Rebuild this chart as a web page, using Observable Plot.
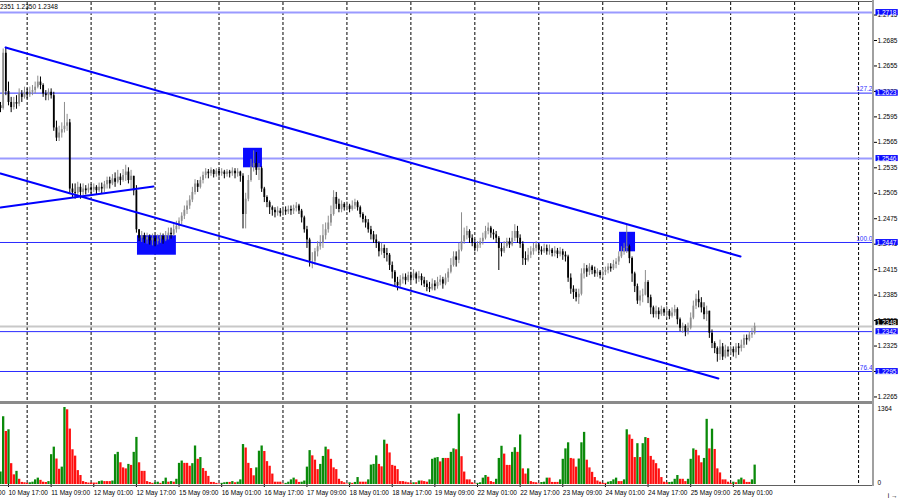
<!DOCTYPE html>
<html><head><meta charset="utf-8">
<script src="https://cdn.jsdelivr.net/npm/d3@7"></script>
<script src="https://cdn.jsdelivr.net/npm/@observablehq/plot@0.6"></script>
<style>
body{margin:0;background:#fff;}
#wrap{position:relative;width:900px;height:500px;overflow:hidden;font-family:"Liberation Sans",Arial,sans-serif;}
#price,#vol{position:absolute;left:0;}
#price{top:0;}
#vol{top:402px;}
.hline{position:absolute;left:0;width:873px;}
#head{position:absolute;top:3px;left:-5.5px;font-size:6.5px;color:#000;white-space:nowrap;}
</style></head><body>
<div id="wrap">
  <div id="price"></div>
  <div id="vol"></div>
  <div class="hline" style="top:1px;height:1px;background:#606060"></div>
  <div class="hline" style="top:401px;height:3px;background:#8a8a8a"></div>
  <div class="hline" style="top:485px;height:1px;background:#606060"></div>
  <div style="position:absolute;left:872px;top:0;width:2px;height:486px;background:#a0a0a0"></div>
  <div id="head">1.2351 1.2350 1.2348</div>
</div>
<script>
// ---- data (prices in pips above 1.2000, H1 bars, first bar index = -3) ----
const BASE = 1.2;
const firstBar = -3;
const firstOpen = 608;
const closes = [
605,670,625,612,606,612,610,622,618,624,
621,624,626,630,636,632,622,620,624,620,
582,570,576,580,584,588,510,506,505,512,
506,510,508,511,509,512,508,512,510,515,
520,516,522,518,524,520,526,530,520,525,
508,462,452,455,450,453,449,452,448,451,
454,450,455,458,456,462,466,472,478,485,
490,497,506,516,512,520,526,530,528,532,
527,531,528,530,527,530,528,531,528,530,
525,480,498,520,536,540,532,534,510,500,
494,488,485,482,484,481,485,483,486,484,
487,490,484,476,462,450,425,425,436,442,
446,455,462,470,480,500,492,486,492,488,
490,486,490,494,488,480,474,470,462,456,
450,446,436,440,434,432,420,412,400,396,
403,406,402,408,405,410,404,407,402,398,
394,392,398,395,400,403,398,405,412,420,
430,426,438,448,455,460,452,446,440,444,
448,452,460,464,458,456,452,440,436,442,
448,444,452,460,452,445,428,426,432,436,
440,444,438,436,440,436,438,434,437,433,
436,432,430,405,392,388,382,386,410,416,
412,418,414,410,412,408,412,414,418,416,
421,424,430,436,440,442,428,410,395,378,
384,385,400,382,370,362,366,362,368,364,
366,360,364,368,356,346,348,342,346,358,
372,380,376,370,362,366,340,328,322,315,
324,312,320,318,321,317,324,322,326,334,
332,338,340,348];
const highs = [
612,675,677,636,618,618,620,628,626,630,
628,630,632,636,643,642,634,626,628,628,
624,590,584,588,612,598,592,516,516,518,
516,516,514,516,515,516,514,517,517,519,
524,524,527,529,532,528,533,538,535,532,
524,514,462,460,458,458,456,457,455,456,
458,457,460,464,464,468,472,476,482,490,
496,502,512,521,520,524,530,534,533,535,
533,534,533,534,532,533,532,535,534,534,
531,528,505,526,545,555,553,540,536,512,
502,496,490,488,489,487,489,489,490,490,
491,494,492,486,478,466,452,435,440,448,
455,468,470,478,490,508,506,498,496,494,
495,492,496,498,496,490,482,478,474,466,
460,456,448,446,444,440,434,424,414,406,
408,410,410,412,412,415,412,413,410,406,
402,400,404,402,406,408,406,410,416,428,
436,436,446,482,464,466,462,456,450,448,
452,458,466,470,466,462,460,454,446,448,
452,452,460,468,466,456,448,436,440,442,
446,448,446,442,445,444,444,440,442,440,
441,439,436,432,410,396,392,392,416,422,
420,422,420,418,416,414,416,418,422,422,
426,428,436,442,446,468,444,430,412,398,
390,392,414,402,385,372,372,370,372,370,
372,368,370,373,370,358,352,350,352,364,
378,386,390,382,376,372,366,344,330,324,
332,328,326,324,325,324,328,328,332,338,
338,342,346,352];
const lows = [
600,603,620,608,600,603,604,607,612,616,
616,618,620,622,628,627,618,614,614,616,
578,566,566,570,576,578,505,500,498,500,
498,502,503,505,504,506,503,506,504,506,
510,510,514,512,516,514,518,519,516,510,
502,458,448,447,446,445,444,443,442,444,
446,445,448,450,451,454,458,462,468,474,
480,486,494,503,506,510,516,522,522,525,
523,524,524,525,522,524,523,525,522,524,
518,463,463,495,518,530,526,520,506,494,
488,480,478,476,478,477,478,479,480,479,
480,483,480,470,458,440,418,416,420,430,
438,440,450,458,466,478,486,482,482,484,
484,482,484,486,484,476,470,464,458,450,
446,440,430,432,428,424,414,404,394,390,
394,398,397,400,400,402,398,400,396,394,
389,388,390,390,392,396,392,396,400,410,
418,418,422,436,445,450,446,442,436,436,
440,444,450,456,452,450,446,414,430,434,
440,440,442,448,446,440,420,420,424,428,
432,436,434,432,434,432,432,430,430,428,
430,426,424,400,386,380,377,374,384,404,
406,408,409,406,406,404,405,408,410,412,
414,416,420,428,432,434,422,400,388,374,
372,376,384,375,362,358,358,356,360,360,
358,356,358,360,350,342,340,336,338,344,
356,368,370,364,356,354,334,322,316,306,
308,308,310,312,314,312,310,314,318,322,
326,330,334,338];
const volumes = [
215,1170,915,945,360,167,227,90,36,30,
20,30,40,80,110,72,40,35,50,515,
645,440,263,300,1330,1290,957,600,490,240,
155,50,35,25,25,25,25,50,60,50,
50,50,60,515,555,375,287,270,347,330,
555,813,375,227,227,50,35,20,30,40,
20,50,110,40,50,40,90,365,405,365,
365,315,360,665,435,465,275,227,140,36,
36,20,10,20,30,36,36,50,30,40,
80,690,630,365,275,150,287,575,665,570,
395,315,180,40,40,40,10,20,40,80,
110,80,36,40,60,300,585,495,420,257,
347,485,645,600,435,287,257,90,50,30,
10,30,20,36,120,40,40,40,80,335,
347,495,347,305,765,695,545,330,315,257,
50,50,40,30,20,30,30,60,60,50,
40,80,435,455,465,390,450,450,450,
555,615,600,1215,480,215,80,80,30,10,
20,30,110,155,125,50,36,90,450,660,
525,330,330,555,635,555,855,270,180,270,
50,36,30,10,35,40,110,110,36,36,
36,80,435,615,720,450,440,300,440,720,
900,420,287,210,120,60,40,20,20,40,
50,80,110,50,50,80,945,855,780,465,
705,465,705,810,795,485,420,360,270,120,
40,30,35,40,90,155,90,90,50,90,
435,615,590,495,375,450,1125,615,955,605,
270,200,80,80,40,20,40,30,80,110,
80,36,36,80,335];
const volumeMax = 1364;
const dayStarts = [7,31,55,79,103,127,151,175,199,223,247,271,295,319];
const labelBars = [-16,0,16,32,48,64,80,96,112,128,144,160,176,192,208,224,240,256,272];
const timeLabels = ["10 May 01:00","10 May 17:00","11 May 09:00","12 May 01:00","12 May 17:00","15 May 09:00","16 May 01:00","16 May 17:00","17 May 09:00","18 May 01:00","18 May 17:00","19 May 09:00","22 May 01:00","22 May 17:00","23 May 09:00","24 May 01:00","24 May 17:00","25 May 09:00","26 May 01:00"];
const yTicks = [1.2265,1.2295,1.2325,1.2355,1.2385,1.2415,1.2445,1.2475,1.2505,1.2535,1.2565,1.2595,1.2625,1.2655,1.2685,1.2715];
const zoneLevels = [1.2718,1.2546];
const thinLevels = [1.2623,1.2447,1.2342,1.2295];
const fibValues = [1.2623,1.2447,1.2295];
const fibNames = ["127.2","100.0","76.4"];
const bidPrice = 1.2348;
const tagLevels = [1.2718,1.2623,1.2546,1.2447,1.2342,1.2295];
const upperChannel = [[-1.1,1.26768],[274.7,1.24305]];
const lowerChannel = [[-3.0,1.25283],[266.4,1.22867]];
const shortLine = [[-3.0,1.24882],[54.4,1.2513]];
const boxX1 = [48.4, 88.2, 229.3];
const boxX2 = [63.0, 95.3, 235.3];
const boxLow = [1.2432, 1.2535, 1.2436];
const boxHigh = [1.2455, 1.2558, 1.2459];

// ---- build ----
const toPrice = v => BASE + v / 10000;
const bars = closes.map((c, k) => {
  const o = k === 0 ? firstOpen : closes[k - 1];
  return {i: k + firstBar, o: toPrice(o), c: toPrice(c),
    h: toPrice(Math.max(highs[k], o, c)), l: toPrice(Math.min(lows[k], o, c)),
    col: c >= o ? "#8c8c8c" : "#000000"};
});
const vols = volumes.map((v, k) => ({i: k + firstBar, v,
  col: (k > 0 && v > volumes[k - 1]) || k === 0 ? "#0a8a0a" : "#ff1010"}));
const boxes = boxX1.map((x, k) => ({x1: x, x2: boxX2[k], y1: boxLow[k], y2: boxHigh[k]}));
const labelOf = new Map(labelBars.map((b, k) => [b, timeLabels[k]]));
const xDomain = [-3.0, 324.6];
const font = "'Liberation Sans', Arial, sans-serif";
const fmt = d3.format(".4f");

const price = Plot.plot({
  width: 900, height: 403, marginLeft: 0, marginRight: 27, marginTop: 2, marginBottom: 2,
  x: {domain: xDomain, axis: null},
  y: {domain: [1.225965, 1.272978], axis: null},
  style: {fontFamily: font, fontSize: "6.5px", background: "transparent", color: "#000"},
  marks: [
    Plot.ruleX(dayStarts, {x: d => d, stroke: "#000", strokeDasharray: "3,2", strokeWidth: 1}),
    Plot.ruleY([bidPrice], {y: d => d, stroke: "#c8c8c8", strokeWidth: 2}),
    Plot.ruleY(zoneLevels, {y: d => d, stroke: "#9a9aff", strokeWidth: 2}),
    Plot.ruleY(thinLevels, {y: d => d, stroke: "#2b2bff", strokeWidth: 1}),
    Plot.rect(boxes, {x1: "x1", x2: "x2", y1: "y1", y2: "y2", fill: "#0a0aff"}),
    Plot.ruleX(bars, {x: "i", y1: "l", y2: "h", stroke: "col", strokeWidth: 1}),
    Plot.ruleX(bars, {x: "i", y1: "o", y2: "c", stroke: "col", strokeWidth: 1.8}),
    Plot.line(upperChannel, {x: d => d[0], y: d => d[1], stroke: "#0000ff", strokeWidth: 2}),
    Plot.line(lowerChannel, {x: d => d[0], y: d => d[1], stroke: "#0000ff", strokeWidth: 2}),
    Plot.line(shortLine, {x: d => d[0], y: d => d[1], stroke: "#0000ff", strokeWidth: 2}),
    Plot.text(fibValues, {y: d => d, text: (d, k) => fibNames[k], frameAnchor: "right", textAnchor: "end", dx: -1, dy: -4, fill: "#3030ff"}),
    Plot.axisY({anchor: "right", ticks: yTicks, tickFormat: fmt, tickSize: 3, tickPadding: 1, stroke: "#000"}),
    Plot.text([bidPrice], {y: d => d, text: fmt, frameAnchor: "right", textAnchor: "start", dx: 3, dy: -4, fill: "#fff", ariaDescription: "tag-black"}),
    Plot.text(tagLevels, {y: d => d, text: fmt, frameAnchor: "right", textAnchor: "start", dx: 3, fill: "#fff", ariaDescription: "tag-blue"})
  ]
});
document.getElementById("price").appendChild(price);

const vol = Plot.plot({
  width: 900, height: 98, marginLeft: 0, marginRight: 27, marginTop: 3, marginBottom: 16,
  x: {domain: xDomain, axis: null},
  y: {domain: [0, volumeMax], axis: null},
  style: {fontFamily: font, fontSize: "6.5px", background: "transparent", color: "#000"},
  marks: [
    Plot.ruleX(dayStarts, {x: d => d, stroke: "#000", strokeDasharray: "3,2", strokeWidth: 1}),
    Plot.ruleX(vols, {x: "i", y1: 0, y2: "v", stroke: "col", strokeWidth: 2.3}),
    Plot.text([volumeMax], {y: d => d, text: d => String(d), frameAnchor: "right", textAnchor: "start", dx: 4, dy: 3}),
    Plot.text([0], {y: d => d, text: d => String(d), frameAnchor: "right", textAnchor: "start", dx: 4, dy: -2}),
    Plot.axisX({anchor: "bottom", ticks: labelBars, tickFormat: d => labelOf.get(d), tickSize: 3, tickPadding: 3, textAnchor: "start", dx: 0})
  ]
});
document.getElementById("vol").appendChild(vol);

function addTags(svg, label, color) {
  svg.querySelectorAll(`g[aria-description="${label}"] text`).forEach(t => {
    const b = t.getBBox();
    const r = document.createElementNS("http://www.w3.org/2000/svg", "rect");
    r.setAttribute("x", b.x - 1); r.setAttribute("y", b.y + 0.5);
    r.setAttribute("width", b.width + 2); r.setAttribute("height", Math.max(0, b.height - 1));
    r.setAttribute("fill", color);
    const tr = t.getAttribute("transform"); if (tr) r.setAttribute("transform", tr);
    t.parentNode.insertBefore(r, t);
  });
}
addTags(price, "tag-black", "#000");
addTags(price, "tag-blue", "#0a0aff");
</script>
</body></html>
